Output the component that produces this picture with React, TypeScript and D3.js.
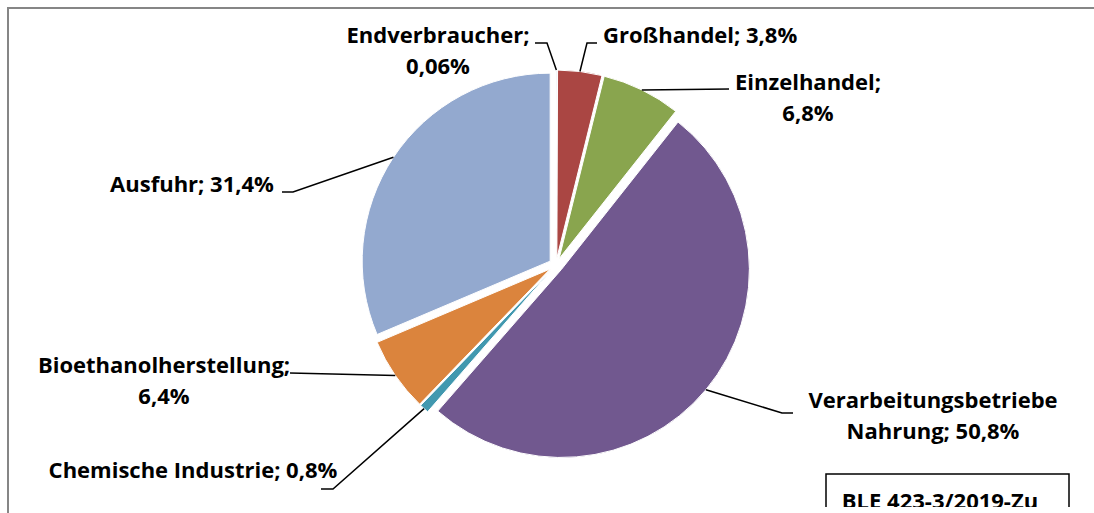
import { useEffect, useRef } from 'react'
import * as d3 from 'd3'

// Slice order clockwise from 12 o'clock
const categories = [
  'Endverbraucher',
  'Großhandel',
  'Einzelhandel',
  'Verarbeitungsbetriebe Nahrung',
  'Chemische Industrie',
  'Bioethanolherstellung',
  'Ausfuhr'
]
const shares = [0.06, 3.8, 6.8, 50.8, 0.8, 6.4, 31.4]
const shareLabels = ['0,06%', '3,8%', '6,8%', '50,8%', '0,8%', '6,4%', '31,4%']
const colors = ['#4572A7', '#AA4643', '#89A54E', '#71588F', '#4198AF', '#DB843D', '#93A9CF']

// label text lines per slice
const labelLines = [
  ['Endverbraucher;', '0,06%'],
  ['Großhandel; 3,8%'],
  ['Einzelhandel;', '6,8%'],
  ['Verarbeitungsbetriebe', 'Nahrung; 50,8%'],
  ['Chemische Industrie; 0,8%'],
  ['Bioethanolherstellung;', '6,4%'],
  ['Ausfuhr; 31,4%']
]
const sourceNote = 'BLE 423-3/2019-Zu'

// where each label sits and where its leader line bends / ends
const labelLayout = [
  { x: 438, y: 43, anchor: 'middle', leader: [[547, 43], [535, 43]] },
  { x: 603, y: 43, anchor: 'start', leader: [[587, 43], [597, 43]] },
  { x: 808, y: 90, anchor: 'middle', leader: [[729, 89]] },
  { x: 933, y: 408, anchor: 'middle', leader: [[782, 413], [793, 413]] },
  { x: 193, y: 478, anchor: 'middle', leader: [[333, 489], [321, 489]] },
  { x: 164, y: 373, anchor: 'middle', leader: [[290, 373]] },
  { x: 192, y: 192, anchor: 'middle', leader: [[293, 192], [282, 192]] }
]

export default function App() {
  const svgRef = useRef<SVGSVGElement>(null)
  const width = 1094
  const height = 513

  useEffect(() => {
    if (!svgRef.current) return
    const svg = d3.select(svgRef.current)
    svg.selectAll('*').remove()

    const cx = 556
    const cy = 265
    const radius = 188
    const explode = 7
    const font = '"Open Sans", Lato, sans-serif'
    const fontSize = 22

    // chart area frame (cut off at right and bottom)
    svg.append('rect')
      .attr('x', 8)
      .attr('y', 8)
      .attr('width', width + 20)
      .attr('height', height + 20)
      .attr('fill', '#fff')
      .attr('stroke', '#868686')
      .attr('stroke-width', 2)

    const data = categories.map((c, i) => ({ name: c, value: shares[i], label: shareLabels[i] }))
    const pie = d3.pie<typeof data[0]>()
      .value(d => d.value)
      .sort(null)
      .startAngle(0)
      .endAngle(2 * Math.PI)
    const arcs = pie(data)

    const arc = d3.arc<d3.PieArcDatum<typeof data[0]>>()
      .innerRadius(0)
      .outerRadius(radius)

    const offset = (a: number, r: number) => [Math.sin(a) * r, -Math.cos(a) * r]

    const g = svg.append('g').attr('transform', `translate(${cx},${cy})`)

    g.selectAll('path.slice')
      .data(arcs)
      .enter()
      .append('path')
      .attr('class', 'slice')
      .attr('d', arc)
      .attr('fill', (_, i) => colors[i])
      .attr('stroke', '#fff')
      .attr('stroke-width', 1)
      .attr('transform', d => {
        const mid = (d.startAngle + d.endAngle) / 2
        const [dx, dy] = offset(mid, explode)
        return `translate(${dx},${dy})`
      })

    // leader lines: from the arc edge at mid angle to the label
    arcs.forEach((d, i) => {
      const mid = (d.startAngle + d.endAngle) / 2
      const [ex, ey] = offset(mid, explode)
      const [px, py] = offset(mid, radius)
      const pts: [number, number][] = [[cx + ex + px, cy + ey + py], ...labelLayout[i].leader as [number, number][]]
      svg.append('path')
        .attr('d', d3.line()(pts))
        .attr('fill', 'none')
        .attr('stroke', '#000')
        .attr('stroke-width', 1.5)
    })

    // labels
    labelLines.forEach((lines, i) => {
      const lay = labelLayout[i]
      const t = svg.append('text')
        .attr('x', lay.x)
        .attr('y', lay.y)
        .attr('text-anchor', lay.anchor)
        .attr('font-family', font)
        .attr('font-weight', 700)
        .attr('font-size', fontSize)
        .attr('fill', '#000')
      lines.forEach((line, j) => {
        t.append('tspan')
          .attr('x', lay.x)
          .attr('dy', j === 0 ? 0 : 31)
          .text(line)
      })
    })

    // source note box, clipped at the bottom
    svg.append('clipPath')
      .attr('id', 'note-clip')
      .append('rect')
      .attr('x', 0)
      .attr('y', 0)
      .attr('width', width)
      .attr('height', 507)
    const note = svg.append('g').attr('clip-path', 'url(#note-clip)')
    note.append('rect')
      .attr('x', 826)
      .attr('y', 474)
      .attr('width', 243)
      .attr('height', 60)
      .attr('fill', '#fff')
      .attr('stroke', '#000')
      .attr('stroke-width', 1.5)
    note.append('text')
      .attr('x', 940)
      .attr('y', 509)
      .attr('text-anchor', 'middle')
      .attr('font-family', font)
      .attr('font-weight', 700)
      .attr('font-size', fontSize)
      .text(sourceNote)
  }, [])

  return (
    <div style={{ position: 'absolute', left: 0, top: 0 }}>
      <svg ref={svgRef} width={width} height={height} style={{ display: 'block' }}></svg>
    </div>
  )
}
